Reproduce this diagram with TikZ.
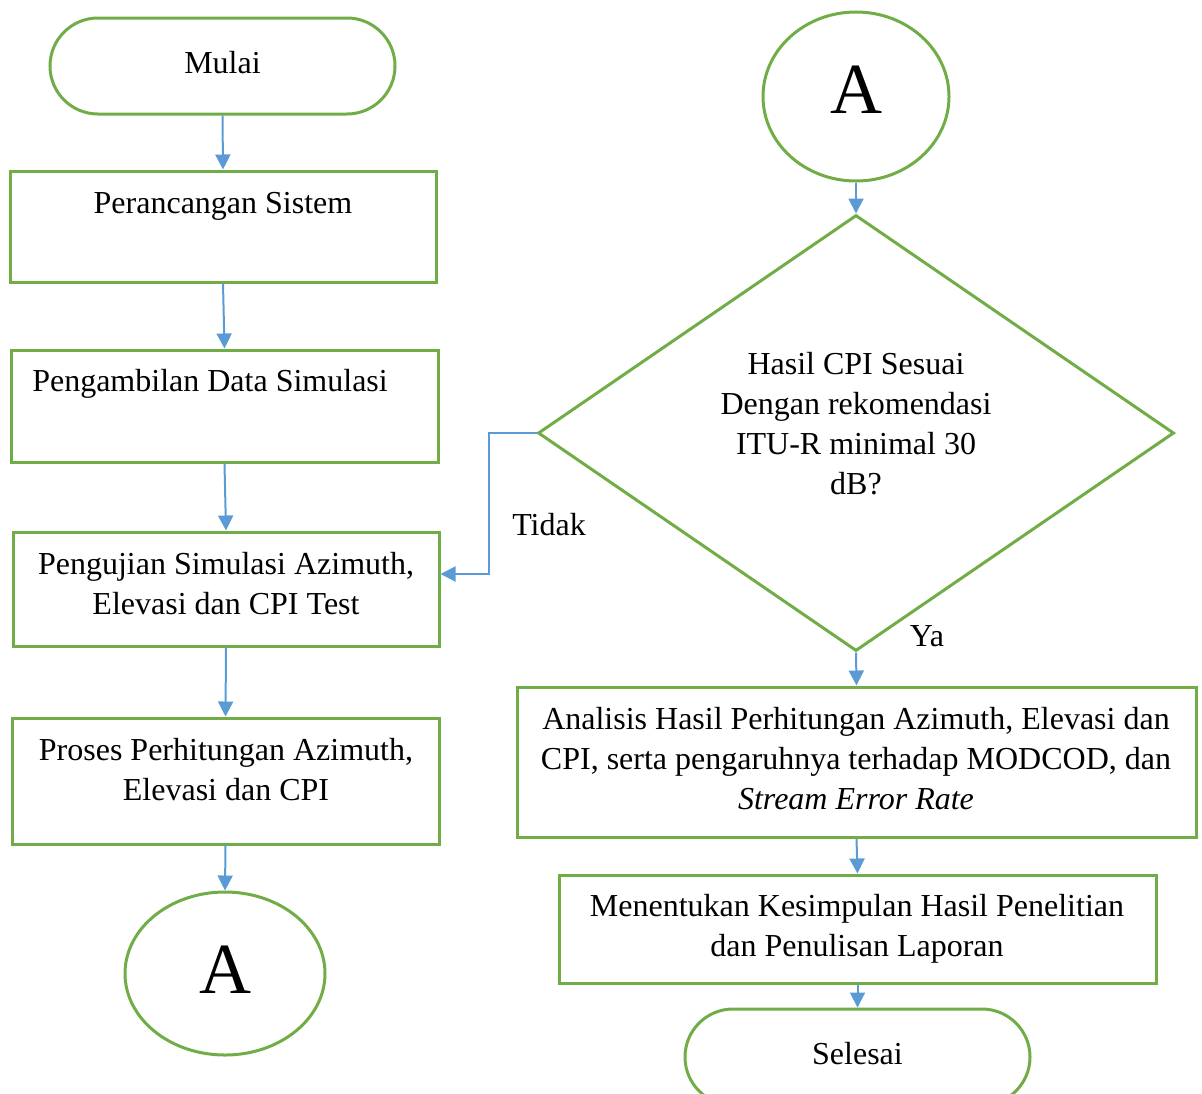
\documentclass[tikz,border=0pt]{standalone}
\usepackage{fontspec}
\setmainfont{Liberation Serif}
\usetikzlibrary{shapes.geometric,arrows.meta,calc}
\definecolor{fgreen}{RGB}{112,173,71}
\definecolor{fblue}{RGB}{91,155,213}
\begin{document}
\begin{tikzpicture}[x=0.5pt,y=-0.5pt,
  box/.style={draw=fgreen,line width=1.5pt,rectangle,inner sep=0pt},
  term/.style={draw=fgreen,line width=1.5pt,rectangle,rounded corners=24pt,inner sep=0pt,minimum width=172.5pt,minimum height=48pt},
  txt/.style={align=center,inner sep=0pt,font=\fontsize{16}{20}\selectfont},
  arr/.style={draw=fblue,line width=1pt,-{Triangle[length=7.5pt,width=7.5pt]}},
  bigA/.style={font=\fontsize{36}{40}\selectfont}]
\useasboundingbox (0,0) rectangle (1202,1093);
\clip (0,0) rectangle (1202,1093);
% left column
\node[term] (mulai) at (222.5,66) {};
\node[txt] (tm) at (222.5,63) {Mulai};
\node[box,minimum width=213pt,minimum height=55.5pt] (b1) at (223,226.5) {};
\node[txt] (t1) at (223,206) {Perancangan Sistem};
\node[box,minimum width=213.5pt,minimum height=56pt] (b2) at (224.5,406) {};
\node[txt] (t2) at (210,384) {Pengambilan Data Simulasi};
\node[box,minimum width=213pt,minimum height=57pt] (b3) at (226,589) {};
\node[txt] (t3) at (226,584) {Pengujian Simulasi Azimuth,\\Elevasi dan CPI Test};
\node[box,minimum width=213.5pt,minimum height=63pt] (b4) at (225.5,781) {};
\node[txt] (t4) at (226,770) {Proses Perhitungan Azimuth,\\Elevasi dan CPI};
\node[draw=fgreen,line width=1.5pt,ellipse,inner sep=0pt,minimum width=100pt,minimum height=81.5pt] (ca1) at (225,973.5) {};
\node[bigA] (la1) at (225,970) {A};
% right column
\node[draw=fgreen,line width=1.5pt,ellipse,inner sep=0pt,minimum width=93pt,minimum height=84.5pt] (ca2) at (856,96.5) {};
\node[bigA] (la2) at (856,90) {A};
\node[draw=fgreen,line width=1.5pt,diamond,inner sep=0pt,minimum width=318pt,minimum height=218pt] (dia) at (856,433) {};
\node[txt] (td) at (856,424) {Hasil CPI Sesuai\\Dengan rekomendasi\\ITU-R minimal 30\\dB?};
\node[box,minimum width=339.5pt,minimum height=75pt] (b5) at (856.5,762) {};
\node[txt] (t5) at (856,759) {Analisis Hasil Perhitungan Azimuth, Elevasi dan\\CPI, serta pengaruhnya terhadap MODCOD, dan\\\textit{Stream Error Rate}};
\node[box,minimum width=298.5pt,minimum height=54pt] (b6) at (857.5,929) {};
\node[txt] (t6) at (857,929) {Menentukan Kesimpulan Hasil Penelitian\\dan Penulisan Laporan};
\node[term] (sel) at (857.5,1057) {};
\node[txt] (ts) at (857.5,1054) {Selesai};
% labels
\node[txt] (ltidak) at (549,525) {Tidak};
\node[txt] (lya) at (927,636) {Ya};
% connectors
\draw[arr] (mulai.south) -- (b1.north);
\draw[arr] (b1.south) -- (b2.north);
\draw[arr] (b2.south) -- (b3.north);
\draw[arr] (b3.south) -- (b4.north);
\draw[arr] (b4.south) -- (ca1.north);
\draw[arr] (ca2.south) -- (dia.north);
\draw[arr] (dia.south) -- (b5.north);
\draw[arr] (b5.south) -- (b6.north);
\draw[arr] (b6.south) -- (sel.north);
\draw[arr] (dia.west) -- ++(-48,0) |- ([yshift=7.5pt]b3.east);
\end{tikzpicture}
\end{document}
